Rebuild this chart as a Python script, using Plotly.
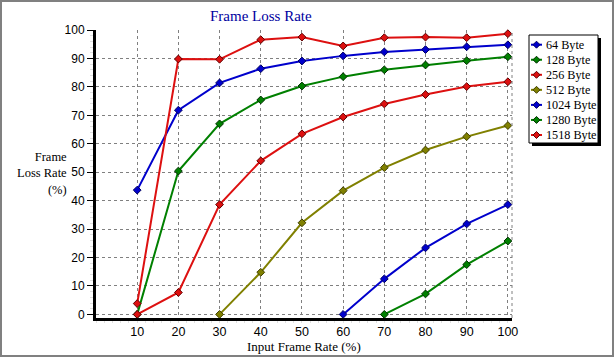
import plotly.graph_objects as go

x_rate = [10, 20, 30, 40, 50, 60, 70, 80, 90, 100]
x_ticks = [10, 20, 30, 40, 50, 60, 70, 80, 90, 100]
y_ticks = [0, 10, 20, 30, 40, 50, 60, 70, 80, 90, 100]

names = ["64 Byte", "128 Byte", "256 Byte", "512 Byte", "1024 Byte", "1280 Byte", "1518 Byte"]
loss_64 = [43.7, 71.8, 81.4, 86.4, 89.1, 90.9, 92.3, 93.1, 94.1, 94.8]
loss_128 = [0.0, 50.4, 67.0, 75.4, 80.3, 83.6, 86.0, 87.7, 89.2, 90.6]
loss_256 = [0.0, 7.7, 38.6, 54.0, 63.5, 69.4, 74.0, 77.3, 80.1, 81.8]
loss_512 = [None, None, 0.0, 14.8, 32.2, 43.5, 51.6, 57.8, 62.5, 66.4]
loss_1024 = [None, None, None, None, None, 0.0, 12.5, 23.4, 31.8, 38.6]
loss_1280 = [None, None, None, None, None, None, 0.0, 7.2, 17.5, 25.8]
loss_1518 = [3.8, 89.8, 89.7, 96.6, 97.5, 94.4, 97.3, 97.5, 97.3, 98.7]

series = [loss_64, loss_128, loss_256, loss_512, loss_1024, loss_1280, loss_1518]
colors = ["#0000cc", "#008000", "#dd1010", "#808000", "#0000cc", "#008000", "#dd1010"]
edges = ["#000060", "#003000", "#600000", "#404000", "#000060", "#003000", "#600000"]

W, H = 615, 359
L, R, T, B = 96, 103, 30, 41
PW, PH = W - L - R, H - T - B


def xp(px):
    return (px - L) / PW


def yp(py):
    return (H - B - py) / PH


fig = go.Figure()
for nm, vals, c, e in zip(names, series, colors, edges):
    fig.add_trace(go.Scatter(
        x=x_rate, y=vals, name=nm, mode="lines+markers",
        line=dict(color=c, width=2),
        marker=dict(symbol="diamond", size=6, color=c, line=dict(color=e, width=1)),
        cliponaxis=False, connectgaps=False,
    ))

serif = "Liberation Serif, Times New Roman, serif"
sans = "Liberation Sans, Arial, sans-serif"

shapes = []
annotations = []
# outer frame
shapes.append(dict(type="rect", xref="paper", yref="paper",
                   x0=xp(1), x1=xp(613), y0=yp(356), y1=yp(1),
                   line=dict(color="#808080", width=2), layer="below"))
# right dashed border
shapes.append(dict(type="line", xref="paper", yref="paper",
                   x0=1, x1=1, y0=0, y1=1,
                   line=dict(color="#808080", width=1, dash="3px,3px")))
# legend shadow and box
shapes.append(dict(type="rect", xref="paper", yref="paper",
                   x0=xp(532), x1=xp(601), y0=yp(146), y1=yp(38),
                   fillcolor="black", line=dict(width=0)))
shapes.append(dict(type="rect", xref="paper", yref="paper",
                   x0=xp(529), x1=xp(598), y0=yp(143), y1=yp(35),
                   fillcolor="white", line=dict(color="black", width=1)))
for i, (nm, c, e) in enumerate(zip(names, colors, edges)):
    yc = 44.7 + 15.05 * i
    shapes.append(dict(type="line", xref="paper", yref="paper",
                       x0=xp(531), x1=xp(542), y0=yp(yc), y1=yp(yc),
                       line=dict(color=c, width=2)))
    cx, r = 536.5, 3.5
    path = "M {},{} L {},{} L {},{} L {},{} Z".format(
        xp(cx), yp(yc - r), xp(cx + r), yp(yc), xp(cx), yp(yc + r), xp(cx - r), yp(yc))
    shapes.append(dict(type="path", xref="paper", yref="paper", path=path,
                       fillcolor=c, line=dict(color=e, width=1)))
    annotations.append(dict(xref="paper", yref="paper", x=xp(543.5), y=yp(yc),
                            xanchor="left", yanchor="middle", showarrow=False,
                            text=nm, font=dict(family=serif, size=12.2, color="black")))

# title
annotations.append(dict(xref="paper", yref="paper", x=xp(261), y=yp(16),
                        xanchor="center", yanchor="middle", showarrow=False,
                        text="Frame Loss Rate",
                        font=dict(family=serif, size=15, color="#0000a0")))
# y title
annotations.append(dict(xref="paper", yref="paper", x=xp(69), y=yp(173),
                        xanchor="right", yanchor="middle", showarrow=False, align="right",
                        text="Frame<br>Loss Rate<br>(%)",
                        font=dict(family=serif, size=12.5, color="black")))
# x title
annotations.append(dict(xref="paper", yref="paper", x=xp(304), y=yp(346.5),
                        xanchor="center", yanchor="middle", showarrow=False,
                        text="Input Frame Rate (%)",
                        font=dict(family=serif, size=13, color="black")))

fig.update_layout(
    width=W, height=H,
    margin=dict(l=L, r=R, t=T, b=B, pad=0),
    paper_bgcolor="white", plot_bgcolor="white",
    showlegend=False,
    shapes=shapes, annotations=annotations,
    xaxis=dict(range=[0, 101], tickvals=x_ticks, ticks="",
               showline=True, linecolor="black", linewidth=3,
               showgrid=True, gridcolor="#808080", gridwidth=1, griddash="3px,3px",
               zeroline=False, tickfont=dict(family=sans, size=12.5, color="black"),
               minor=dict(dtick=2, tick0=0, ticks="outside", ticklen=2, tickcolor="#e0e0e0",
                          showgrid=False)),
    yaxis=dict(range=[-1.27, 100], tickvals=y_ticks, ticks="outside", ticklen=6,
               tickcolor="black", showline=True, linecolor="black", linewidth=3,
               showgrid=True, gridcolor="#808080", gridwidth=1, griddash="3px,3px",
               zeroline=False, tickfont=dict(family=sans, size=12, color="black"),
               minor=dict(dtick=2, tick0=0, ticks="outside", ticklen=3, tickcolor="#e0e0e0",
                          showgrid=False)),
)

fig.write_html("out.html", config={"displayModeBar": False},
               post_script="document.body.style.margin='0';document.body.style.overflow='hidden';")
